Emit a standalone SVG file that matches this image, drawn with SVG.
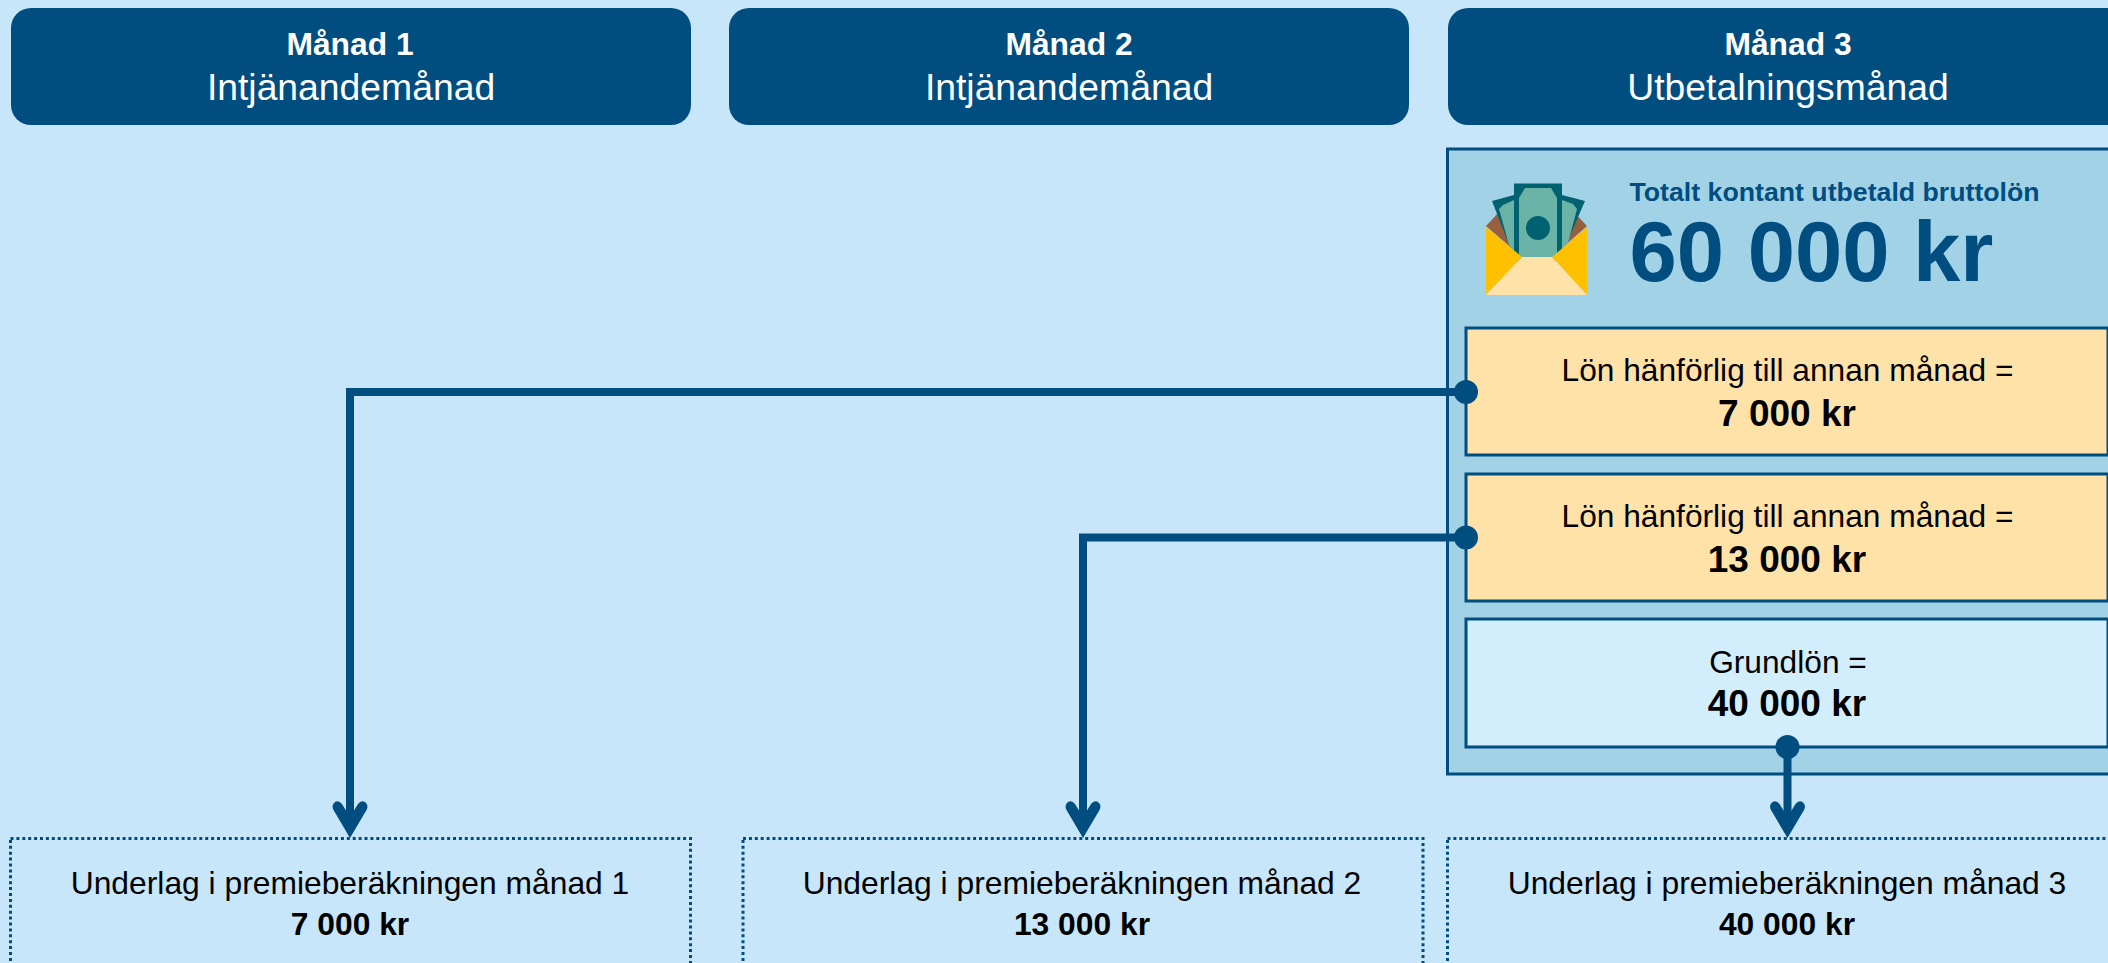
<svg xmlns="http://www.w3.org/2000/svg" width="2108" height="963" viewBox="0 0 2108 963">
<style>
text{font-family:"Liberation Sans",Arial,sans-serif;text-anchor:middle;fill:#000}
.hd{fill:#004D80}
.hb{font-size:31.8px;font-weight:700;fill:#fff}
.hr{font-size:37.3px;fill:#fff}
.in{stroke:#004D80;stroke-width:3}
.t{font-size:31.7px}
.tb{font-size:37px;font-weight:700}
.u{font-size:31.8px}
.ub{font-size:31.8px;font-weight:700}
.dot{fill:none;stroke:#004D80;stroke-width:3;stroke-dasharray:3 2.9}
.c{fill:none;stroke:#004D80;stroke-width:8}
.d{fill:#004D80}
.navy{fill:#004D80;font-weight:700}
</style>
<defs>
<path id="head" d="M0 838 L-16.500 810 Q-19 805 -15 802 Q-11 800 -8 804 L0 817 L8 804 Q11 800 15 802 Q19 805 16.500 810Z" fill="#004D80"/>
</defs>
<rect width="2108" height="963" fill="#C7E6F9"/>
<g id="header-1"><rect class="hd" x="11" y="8" width="680" height="117" rx="20"/><text class="hb" x="350" y="55">Månad 1</text><text class="hr" x="351" y="100">Intjänandemånad</text></g>
<g id="header-2"><rect class="hd" x="729" y="8" width="680" height="117" rx="20"/><text class="hb" x="1069" y="55">Månad 2</text><text class="hr" x="1069" y="100">Intjänandemånad</text></g>
<g id="header-3"><rect class="hd" x="1448" y="8" width="680" height="117" rx="20"/><text class="hb" x="1788" y="55">Månad 3</text><text class="hr" x="1788" y="100">Utbetalningsmånad</text></g>
<g id="panel">
<rect x="1447.500" y="149" width="680" height="625" fill="#A2D2E6" stroke="#004D80" stroke-width="3"/>
<g id="icon">
<path d="M1486 226 L1500 211 L1573 211 L1587 226 L1537 270Z" fill="#96603F"/>
<path d="M1492 201 L1514 195 L1538 250 L1514 256 L1510 247Z" fill="#006270"/>
<path d="M1585 201 L1562 195 L1538 250 L1562 256 L1566 245Z" fill="#006270"/>
<path d="M1499 209 L1503 205 L1514 200 L1514 252 L1509 245Z" fill="#6AB3A6"/>
<path d="M1577 209 L1573 204 L1562 200 L1562 252 L1568 243Z" fill="#6AB3A6"/>
<rect x="1514" y="183.500" width="48" height="78" fill="#006270"/>
<path d="M1519 198 L1525 188 L1551 188 L1557 198 L1557 258 L1519 258Z" fill="#6AB3A6"/>
<circle cx="1538" cy="228" r="12" fill="#006270"/>
<path d="M1486 227 L1522 257 L1486 295Z" fill="#FFC000"/>
<path d="M1587 227 L1552 257 L1587 295Z" fill="#FFC000"/>
<path d="M1486 295 L1522 257 L1552 257 L1587 295Z" fill="#FFE2A8"/>
</g>
<text class="navy" x="1629.500" y="201" font-size="26.7" style="text-anchor:start">Totalt kontant utbetald bruttolön</text>
<text class="navy" x="1629.500" y="281" font-size="85" style="text-anchor:start">60 000 kr</text>
</g>
<g id="box-7000"><rect class="in" x="1466" y="328" width="642" height="127" fill="#FFE2A8"/><text class="t" x="1787.500" y="381">Lön hänförlig till annan månad =</text><text class="tb" x="1787" y="426">7 000 kr</text></g>
<g id="box-13000"><rect class="in" x="1466" y="474" width="642" height="127" fill="#FFE2A8"/><text class="t" x="1787.500" y="527">Lön hänförlig till annan månad =</text><text class="tb" x="1787" y="572">13 000 kr</text></g>
<g id="box-40000"><rect class="in" x="1466" y="619" width="642" height="128" fill="#D2EEFD"/><text class="t" x="1788" y="673">Grundlön =</text><text class="tb" x="1787" y="716">40 000 kr</text></g>
<g id="under-1"><rect class="dot" x="10.500" y="838.500" width="680" height="160"/><text class="u" x="350" y="894">Underlag i premieberäkningen månad 1</text><text class="ub" x="350" y="935">7 000 kr</text></g>
<g id="under-2"><rect class="dot" x="743" y="838.500" width="680" height="160"/><text class="u" x="1082" y="894">Underlag i premieberäkningen månad 2</text><text class="ub" x="1082" y="935">13 000 kr</text></g>
<g id="under-3"><rect class="dot" x="1447.500" y="838.500" width="680" height="160"/><text class="u" x="1787" y="894">Underlag i premieberäkningen månad 3</text><text class="ub" x="1787" y="935">40 000 kr</text></g>
<g id="connectors">
<path class="c" d="M1466 392 H350 V825"/>
<path class="c" d="M1466 537.500 H1083 V825"/>
<path class="c" d="M1787.500 747 V825"/>
<circle class="d" cx="1466" cy="392" r="12"/>
<circle class="d" cx="1466" cy="537.500" r="12"/>
<circle class="d" cx="1787.500" cy="747" r="12"/>
<use href="#head" x="350"/>
<use href="#head" x="1083"/>
<use href="#head" x="1787.500"/>
</g>
</svg>
